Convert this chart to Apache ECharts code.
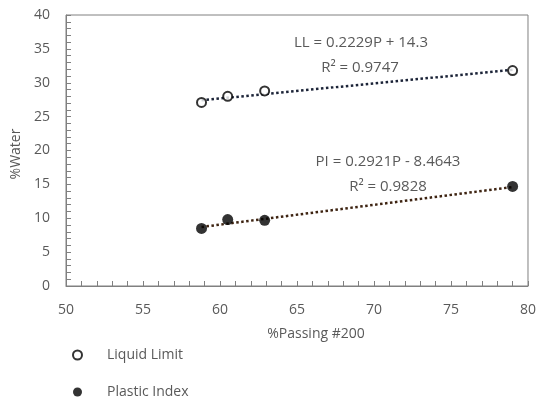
<!DOCTYPE html>
<html>
<head>
<meta charset="utf-8">
<script src="https://cdn.jsdelivr.net/npm/echarts@6/dist/echarts.min.js"></script>
<style>html,body{margin:0;padding:0;background:#fff}#c{width:539px;height:407px}</style>
</head>
<body>
<div id="c"></div>
<script>
// Data
const passing = [58.8, 60.5, 62.9, 79.0];
const liquidLimit = [27.1, 28.0, 28.8, 31.8];
const plasticIndex = [8.5, 9.8, 9.7, 14.7];
// Trendline end points (x, y)
const llTrendX = [58.8, 79.0];
const llTrendY = [27.41, 31.91];
const piTrendX = [58.8, 79.0];
const piTrendY = [8.71, 14.61];
const llEquation = 'LL = 0.2229P + 14.3';
const llR2 = 'R² = 0.9747';
const piEquation = 'PI = 0.2921P - 8.4643';
const piR2 = 'R² = 0.9828';

const FONT = 'Open Sans';
const TXT = '#595959';
const pair = (xs, ys) => xs.map((x, i) => [x, ys[i]]);

const chart = echarts.init(document.getElementById('c'), null, {renderer: 'canvas'});
chart.setOption({
  animation: false,
  backgroundColor: '#fff',
  textStyle: {fontFamily: FONT, color: TXT},
  grid: {left: 66, right: 8, top: 15, bottom: 121, show: true, borderColor: '#808080', borderWidth: 1},
  xAxis: {
    type: 'value', min: 50, max: 80, interval: 5,
    name: '%Passing #200', nameLocation: 'middle', nameGap: 41,
    nameTextStyle: {fontFamily: FONT, fontSize: 14, color: TXT, padding: [0, 0, 0, 38]},
    axisLine: {show: true, lineStyle: {color: '#808080'}},
    axisTick: {show: true, inside: true, length: 5, lineStyle: {color: '#808080'}},
    minorTick: {show: true, splitNumber: 5, length: 5, lineStyle: {color: '#808080'}},
    splitLine: {show: false},
    axisLabel: {fontFamily: FONT, fontSize: 14, color: TXT, margin: 17}
  },
  yAxis: {
    type: 'value', min: 0, max: 40, interval: 5,
    name: '%Water', nameLocation: 'middle', nameGap: 43, nameRotate: 90,
    nameTextStyle: {fontFamily: FONT, fontSize: 14, color: TXT, padding: [0, 7, 0, 0]},
    axisLine: {show: true, lineStyle: {color: '#808080'}},
    axisTick: {show: true, inside: true, length: 5, lineStyle: {color: '#808080'}},
    minorTick: {show: true, splitNumber: 5, length: 5, lineStyle: {color: '#808080'}},
    splitLine: {show: false},
    axisLabel: {fontFamily: FONT, fontSize: 14, color: TXT, margin: 16}
  },
  legend: {
    orient: 'vertical', left: 67, top: 343, itemGap: 23,
    itemWidth: 9, itemHeight: 9,
    textStyle: {fontFamily: FONT, fontSize: 14, color: TXT, padding: [0, 0, 0, 20]},
    data: ['Liquid Limit', 'Plastic Index']
  },
  series: [
    {
      name: 'LL trend', type: 'line', data: pair(llTrendX, llTrendY),
      showSymbol: false, symbol: 'none', silent: true, z: 1,
      lineStyle: {color: '#1c2438', width: 2.5, type: [2.5, 2.5]}
    },
    {
      name: 'PI trend', type: 'line', data: pair(piTrendX, piTrendY),
      showSymbol: false, symbol: 'none', silent: true, z: 1,
      lineStyle: {color: '#3e2412', width: 2.5, type: [2.5, 2.5]}
    },
    {
      name: 'Liquid Limit', type: 'scatter', data: pair(passing, liquidLimit),
      symbol: 'circle', symbolSize: 9, z: 3,
      itemStyle: {color: '#fff', borderColor: '#000', borderWidth: 2}
    },
    {
      name: 'Plastic Index', type: 'scatter', data: pair(passing, plasticIndex),
      symbol: 'circle', symbolSize: 11, z: 3,
      itemStyle: {color: '#000', borderColor: '#000', borderWidth: 0}
    }
  ],
  graphic: [
    {type: 'text', x: 361, y: 43, style: {text: llEquation, font: '15px "Open Sans"', fill: TXT, align: 'center', verticalAlign: 'middle'}},
    {type: 'text', x: 360, y: 68, style: {text: llR2, font: '15px "Open Sans"', fill: TXT, align: 'center', verticalAlign: 'middle'}},
    {type: 'text', x: 388, y: 162, style: {text: piEquation, font: '15px "Open Sans"', fill: TXT, align: 'center', verticalAlign: 'middle'}},
    {type: 'text', x: 388, y: 187, style: {text: piR2, font: '15px "Open Sans"', fill: TXT, align: 'center', verticalAlign: 'middle'}}
  ]
});
</script>
</body>
</html>
